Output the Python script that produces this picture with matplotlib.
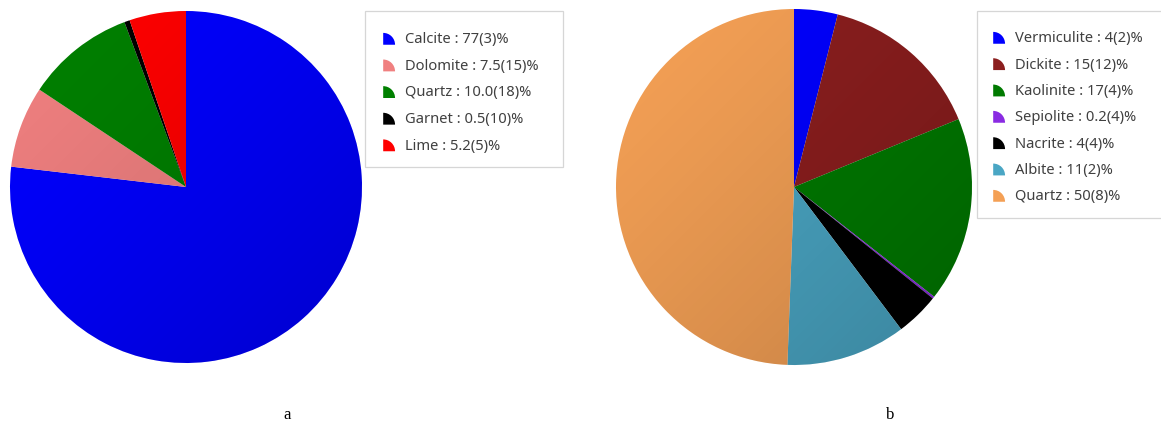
import numpy as np
import matplotlib
matplotlib.use("Agg")
import matplotlib.pyplot as plt
from matplotlib.patches import Wedge, Circle, Rectangle
from matplotlib.legend_handler import HandlerBase

# ---- data ----
names_a = ["Calcite", "Dolomite", "Quartz", "Garnet", "Lime"]
values_a = [77, 7.5, 10.0, 0.5, 5.2]
value_text_a = ["77", "7.5", "10.0", "0.5", "5.2"]
err_a = ["3", "15", "18", "10", "5"]
colors_a = ["#0000FF", "#F08080", "#008000", "#000000", "#FF0000"]

names_b = ["Vermiculite", "Dickite", "Kaolinite", "Sepiolite", "Nacrite", "Albite", "Quartz"]
values_b = [4, 15, 17, 0.2, 4, 11, 50]
value_text_b = ["4", "15", "17", "0.2", "4", "11", "50"]
err_b = ["2", "12", "4", "4", "4", "2", "8"]
colors_b = ["#0000FF", "#8B1E1E", "#007A00", "#8A2BE2", "#000000", "#4AA6C4", "#F4A055"]

panel_labels = ["a", "b"]

W, H = 1161, 428
fig = plt.figure(figsize=(W / 100, H / 100), dpi=100)
fig.patch.set_facecolor("white")


class HandlerQuarter(HandlerBase):
    def create_artists(self, legend, orig_handle, xdescent, ydescent, width, height, fontsize, trans):
        r = height * 1.15
        w = Wedge((-xdescent, -ydescent - 0.15 * height), r, 0, 90,
                  facecolor=orig_handle.get_facecolor(), edgecolor="none", transform=trans)
        return [w]


def px_rect(x0, y0, x1, y1):
    return Rectangle((x0 / W, 1 - y1 / H), (x1 - x0) / W, (y1 - y0) / H,
                     transform=fig.transFigure, facecolor="white",
                     edgecolor="#d6d6d6", linewidth=0.9, zorder=0)


def draw_panel(cx, cy, r, names, values, vtext, errs, colors, leg_x, leg_y, spacing, box):
    ax = fig.add_axes([(cx - r) / W, (H - cy - r) / H, 2 * r / W, 2 * r / H])
    wedges, _ = ax.pie(values, colors=colors, startangle=90, counterclock=False,
                       wedgeprops=dict(linewidth=0))
    ax.set_xlim(-1, 1)
    ax.set_ylim(-1, 1)
    ax.set_aspect("equal")
    # subtle shading gradient
    n = 200
    yy, xx = np.mgrid[1:-1:n * 1j, -1:1:n * 1j]
    t = np.clip((xx - yy + 2) / 4, 0, 1)
    img = np.zeros((n, n, 4))
    img[..., 3] = 0.2 * t ** 1.3
    im = ax.imshow(img, extent=(-1, 1, -1, 1), zorder=5, interpolation="bilinear")
    im.set_clip_path(Circle((0, 0), 1, transform=ax.transData))
    fig.patches.append(px_rect(*box))
    labels = [f"{nm} : {vt}({e})%" for nm, vt, e in zip(names, vtext, errs)]
    fig.legend(wedges, labels, handler_map={Wedge: HandlerQuarter()},
               loc="upper left", bbox_to_anchor=(leg_x / W, 1 - leg_y / H),
               prop=dict(family="Noto Sans", size=10.6), labelcolor="#404040",
               frameon=False,
               handlelength=0.8, handleheight=0.7, handletextpad=0.7,
               labelspacing=spacing, borderpad=1.1, borderaxespad=0)
    return ax


draw_panel(186, 187, 176, names_a, values_a, value_text_a, err_a, colors_a,
           367, 16, 0.79, (365, 11, 563, 167))
draw_panel(794, 187, 178, names_b, values_b, value_text_b, err_b, colors_b,
           977, 15, 0.77, (977, 11, 1170, 218))

fig.text(287 / W, 1 - 415 / H, panel_labels[0], family="Liberation Serif", size=12,
         ha="center", va="center")
fig.text(890 / W, 1 - 415 / H, panel_labels[1], family="Liberation Serif", size=12,
         ha="center", va="center")

fig.savefig("out.png", dpi=100, facecolor="white")
